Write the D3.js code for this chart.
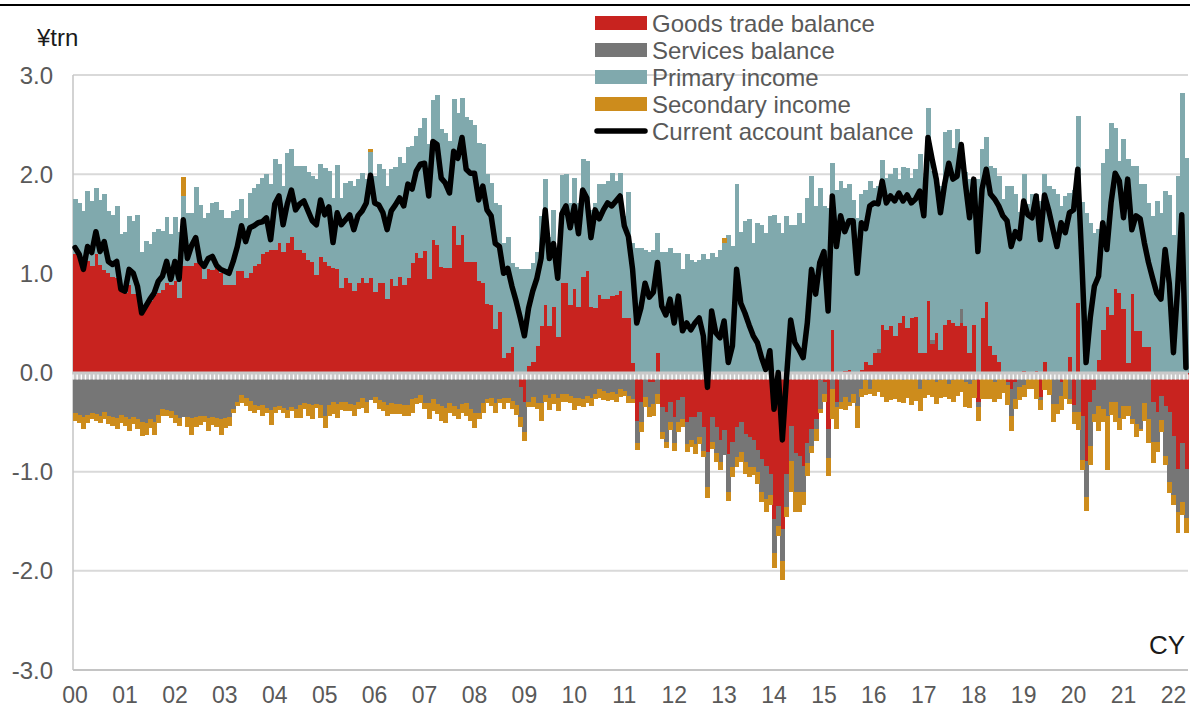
<!DOCTYPE html>
<html>
<head>
<meta charset="utf-8">
<script src="https://cdn.jsdelivr.net/npm/d3@7"></script>
<style>
  body { margin: 0; background: #fff; }
  svg { display: block; font-family: "Liberation Sans", Arial, sans-serif; }
</style>
</head>
<body>
<div id="chart"></div>
<script>
// monthly values, Jan 2000 - Apr 2022, yen trillion
const goods = [
  1.19,1.18,1.15,1.12,1.07,1.19,1.08,1.03,1.00,0.96,0.95,0.86,0.80,0.88,0.79,0.82,0.63,0.70,0.72,0.78,0.80,0.83,0.90,0.88,0.92,0.75,1.07,
  1.07,1.07,1.10,1.12,0.94,1.04,1.03,1.05,1.00,0.88,0.88,0.88,1.02,1.02,0.95,1.00,1.07,1.09,1.20,1.22,1.24,1.24,1.31,1.22,1.31,1.37,1.24,
  1.24,1.21,1.13,1.11,0.98,1.16,1.11,1.07,1.05,1.04,0.85,0.95,0.90,0.82,0.90,0.95,0.90,0.95,0.81,0.90,0.90,0.74,0.94,0.87,0.96,0.88,0.95,
  1.10,1.21,1.15,1.23,0.94,1.34,1.29,1.06,1.05,1.05,1.48,1.29,1.39,1.11,1.11,1.11,0.92,0.90,0.69,0.68,0.44,0.61,0.15,0.20,0.26,-0.03,-0.15,
  -0.30,0.07,0.11,0.27,0.47,0.68,0.47,0.66,0.36,0.90,0.90,0.68,0.84,0.66,0.96,1.02,0.66,0.65,0.78,0.74,0.74,0.77,0.78,0.82,0.55,0.55,0.10,-0.49,
  -0.30,-0.05,-0.10,-0.10,0.20,-0.35,-0.40,-0.30,-0.45,-0.28,-0.25,-0.50,-0.45,-0.45,-0.40,-0.55,-0.80,-0.45,-0.55,-0.68,-0.58,-0.82,-0.70,-0.55,-0.50,-0.62,-0.65,
  -0.68,-0.78,-0.87,-0.94,-1.02,-1.48,-1.35,-1.58,-1.02,-0.54,-0.81,-0.84,-0.94,-0.71,-0.57,-0.47,-0.08,-0.10,-0.57,0.43,-0.30,0.00,0.02,0.03,-0.03,0.00,0.03,
  0.11,0.08,0.20,0.20,0.48,0.43,0.47,0.37,0.50,0.57,0.45,0.55,0.56,0.20,0.20,0.72,0.29,0.40,0.23,0.48,0.53,0.50,0.47,0.50,0.47,0.20,0.48,
  -0.30,0.55,0.71,0.27,0.18,0.11,-0.02,-0.10,-0.17,-0.10,-0.02,0.02,0.01,0.01,0.02,-0.25,0.11,-0.01,-0.02,-0.02,-0.10,0.01,0.16,-0.33,0.70,
  -0.44,-0.89,-0.30,-0.18,0.13,0.43,0.66,0.58,0.84,0.80,0.64,0.10,0.79,0.42,0.42,0.26,0.26,-0.30,-0.40,-0.24,-0.34,-0.40,-0.64,-0.97,-0.71,-0.97
];

const services = [
  -0.41,-0.43,-0.45,-0.43,-0.41,-0.42,-0.44,-0.40,-0.44,-0.45,-0.46,-0.43,-0.45,-0.47,-0.45,-0.47,-0.50,-0.51,-0.47,-0.50,-0.43,-0.37,-0.38,-0.39,-0.43,-0.46,-0.45,
  -0.45,-0.46,-0.45,-0.44,-0.44,-0.46,-0.45,-0.46,-0.47,-0.46,-0.45,-0.37,-0.30,-0.23,-0.26,-0.29,-0.33,-0.34,-0.33,-0.36,-0.38,-0.35,-0.34,-0.36,-0.38,-0.35,-0.37,
  -0.33,-0.31,-0.32,-0.33,-0.32,-0.33,-0.44,-0.33,-0.30,-0.32,-0.30,-0.30,-0.32,-0.33,-0.30,-0.26,-0.30,-0.28,-0.25,-0.28,-0.30,-0.33,-0.31,-0.32,-0.32,-0.33,-0.33,
  -0.27,-0.26,-0.23,-0.31,-0.31,-0.27,-0.32,-0.34,-0.36,-0.31,-0.34,-0.37,-0.32,-0.31,-0.37,-0.41,-0.41,-0.31,-0.27,-0.26,-0.31,-0.27,-0.26,-0.26,-0.29,-0.30,-0.30,
  -0.30,-0.30,-0.25,-0.31,-0.31,-0.23,-0.26,-0.22,-0.26,-0.22,-0.22,-0.24,-0.26,-0.26,-0.27,-0.24,-0.26,-0.22,-0.17,-0.19,-0.21,-0.20,-0.22,-0.17,-0.19,-0.24,-0.27,-0.22,
  -0.20,-0.20,-0.25,-0.22,-0.22,-0.25,-0.30,-0.20,-0.26,-0.22,-0.22,-0.22,-0.23,-0.27,-0.25,-0.24,-0.35,-0.25,-0.26,-0.22,-0.25,-0.38,-0.25,-0.30,-0.30,-0.28,-0.30,
  -0.27,-0.22,-0.34,-0.34,-0.22,-0.34,-0.20,-0.32,-0.34,-0.35,-0.40,-0.37,-0.27,-0.20,-0.17,-0.10,-0.29,-0.12,-0.29,-0.17,-0.05,-0.30,-0.25,-0.30,-0.19,-0.34,-0.17,
  -0.08,-0.17,-0.06,0.04,-0.05,-0.08,-0.06,-0.07,-0.05,-0.08,-0.06,-0.05,-0.07,-0.17,-0.06,-0.08,0.04,-0.10,-0.08,-0.05,-0.12,-0.08,-0.06,0.14,-0.10,-0.12,-0.08,
  -0.05,-0.07,-0.07,-0.07,-0.10,-0.07,-0.05,-0.03,-0.27,-0.17,-0.13,-0.13,-0.07,-0.07,-0.05,-0.03,-0.03,-0.05,-0.30,-0.30,-0.14,-0.07,-0.27,-0.07,-0.40,
  -0.44,-0.37,-0.44,-0.24,-0.34,-0.37,-0.44,-0.30,-0.30,-0.46,-0.34,-0.34,-0.47,-0.52,-0.57,-0.31,-0.47,-0.40,-0.30,-0.24,-0.50,-0.70,-0.60,-0.44,-0.60,-0.50
];

const primary = [
  0.56,0.53,0.48,0.71,0.66,0.67,0.66,0.77,0.63,0.63,0.73,0.54,0.62,0.70,0.74,0.77,0.59,0.63,0.58,0.64,0.65,0.60,0.67,0.52,0.65,0.67,0.71,
  0.54,0.54,0.77,0.57,0.62,0.57,0.68,0.67,0.64,0.68,0.68,0.75,0.62,0.73,0.61,0.81,0.79,0.81,0.76,0.78,0.66,0.91,0.79,0.66,0.90,0.88,0.84,
  0.84,0.87,0.89,0.87,0.97,0.94,0.95,0.96,0.71,1.05,0.91,0.96,1.03,1.06,1.05,1.06,1.05,1.27,1.17,1.20,1.15,1.14,1.11,1.20,1.21,1.23,1.32,
  1.18,1.17,1.32,1.34,1.36,1.41,1.51,1.40,1.37,1.28,1.28,1.33,1.38,1.47,1.44,1.39,1.39,1.40,1.31,1.23,1.27,1.08,1.16,1.17,0.84,1.06,1.04,
  1.04,0.97,0.99,0.95,1.11,1.27,0.90,0.98,0.81,1.09,1.10,1.03,1.12,1.05,1.19,1.11,0.98,1.06,1.12,1.16,1.19,1.24,1.15,1.19,1.03,1.27,1.21,1.26,
  1.26,1.24,1.22,1.24,1.21,1.22,1.22,1.26,1.21,1.21,1.04,1.19,1.13,1.11,1.13,1.19,1.14,1.21,1.16,1.24,1.31,1.39,1.28,1.90,1.42,1.53,1.55,
  1.31,1.51,1.49,1.41,1.58,1.59,1.51,1.41,1.58,1.49,1.49,1.61,1.51,1.76,1.98,1.68,1.86,1.68,1.66,1.68,1.84,1.93,1.84,1.87,1.74,1.56,1.77,
  1.73,1.85,1.66,1.64,1.66,1.53,1.53,1.69,1.45,1.50,1.61,1.41,1.49,2.00,1.71,1.95,1.70,1.51,1.65,1.95,1.92,1.76,1.99,1.64,1.55,1.75,1.44,
  1.95,1.70,1.66,1.81,1.88,1.87,1.75,1.88,1.88,1.80,1.62,1.98,1.69,1.79,1.78,1.73,1.89,1.88,1.85,1.80,1.68,1.77,1.65,1.84,1.89,
  1.72,1.61,1.51,1.41,1.32,1.68,1.59,1.94,1.63,1.33,1.71,2.05,1.29,1.66,1.48,1.64,1.45,1.58,1.73,1.61,1.83,1.79,1.39,1.98,2.82,2.16
];

const secondary = [
  -0.08,-0.08,-0.12,-0.08,-0.06,-0.07,-0.07,-0.07,-0.08,-0.09,-0.11,-0.08,-0.09,-0.12,-0.07,-0.10,-0.14,-0.12,-0.09,-0.13,-0.08,-0.07,-0.06,-0.07,-0.08,-0.08,0.19,
  -0.10,-0.17,-0.10,-0.09,-0.06,-0.13,-0.08,-0.09,-0.16,-0.10,-0.09,-0.04,-0.04,-0.08,-0.08,-0.10,-0.08,-0.04,-0.11,-0.05,-0.15,-0.06,-0.04,-0.05,-0.08,-0.04,-0.09,
  -0.13,-0.06,-0.12,-0.14,-0.04,-0.13,-0.12,-0.11,-0.12,-0.14,-0.08,-0.09,-0.07,-0.11,-0.07,-0.10,-0.11,0.03,-0.06,-0.09,-0.09,-0.11,-0.11,-0.10,-0.10,-0.11,-0.11,
  -0.14,-0.06,-0.08,-0.06,-0.16,-0.12,-0.10,-0.15,-0.15,-0.10,-0.10,-0.10,-0.09,-0.13,-0.12,-0.15,-0.06,-0.10,-0.04,-0.08,-0.10,-0.04,-0.11,-0.05,-0.08,-0.10,-0.10,
  -0.09,-0.05,-0.10,-0.06,-0.18,-0.07,-0.12,-0.10,-0.13,-0.08,-0.08,-0.07,-0.12,-0.08,-0.08,-0.07,-0.08,-0.05,-0.09,-0.09,-0.08,-0.08,-0.08,-0.08,-0.05,-0.07,-0.04,-0.07,
  -0.10,-0.10,-0.10,-0.12,-0.10,-0.07,-0.06,-0.08,-0.08,-0.10,-0.08,-0.08,-0.07,-0.10,-0.07,-0.06,-0.12,-0.07,-0.09,-0.08,0.05,-0.10,-0.10,-0.10,-0.10,-0.12,-0.10,
  -0.08,-0.12,-0.10,-0.13,-0.10,-0.15,-0.10,-0.19,-0.10,-0.32,-0.20,-0.20,-0.13,-0.13,-0.07,-0.12,-0.04,-0.08,-0.18,-0.30,-0.22,-0.07,-0.13,-0.04,-0.09,-0.22,-0.08,
  -0.15,-0.05,-0.18,-0.20,-0.20,-0.22,-0.22,-0.20,-0.25,-0.23,-0.20,-0.28,-0.22,-0.22,-0.20,-0.15,-0.25,-0.22,-0.18,-0.20,-0.15,-0.22,-0.18,-0.20,-0.25,-0.24,-0.18,
  -0.14,-0.20,-0.20,-0.20,-0.20,-0.20,-0.14,-0.20,-0.15,-0.10,-0.13,-0.12,-0.10,-0.10,-0.22,-0.10,-0.15,-0.17,-0.18,-0.10,-0.14,-0.20,-0.05,-0.12,-0.18,
  -0.10,-0.14,-0.19,-0.08,-0.25,-0.13,-0.54,-0.13,-0.20,-0.12,-0.13,-0.10,-0.05,-0.13,-0.02,-0.18,-0.24,-0.21,-0.10,-0.12,-0.09,-0.12,-0.10,-0.21,-0.13,-0.15
];

const currentAccount = [
  1.26,1.19,1.04,1.27,1.21,1.42,1.22,1.32,1.12,1.09,1.12,0.84,0.82,1.04,1.00,0.87,0.60,0.67,0.74,0.80,0.92,0.97,1.12,0.94,1.12,0.94,1.54,
  1.15,1.28,1.36,1.12,1.07,1.15,1.17,1.08,1.04,1.02,1.00,1.12,1.27,1.48,1.32,1.46,1.48,1.51,1.52,1.56,1.34,1.70,1.78,1.49,1.70,1.84,1.64,
  1.70,1.73,1.63,1.53,1.49,1.74,1.59,1.67,1.31,1.61,1.49,1.54,1.59,1.44,1.58,1.63,1.71,1.99,1.71,1.69,1.61,1.44,1.63,1.69,1.76,1.68,1.90,
  1.85,2.03,2.10,2.11,1.78,2.33,2.30,1.96,1.91,1.81,2.23,2.16,2.37,2.05,2.01,2.01,1.74,1.88,1.64,1.58,1.30,1.27,1.00,1.05,0.87,0.72,0.55,
  0.37,0.65,0.82,0.95,1.15,1.64,1.15,1.30,0.95,1.60,1.68,1.46,1.68,1.40,1.84,1.76,1.36,1.64,1.55,1.64,1.71,1.68,1.73,1.78,1.48,1.37,1.04,0.50,
  0.65,0.90,0.76,0.81,1.11,0.67,0.58,0.74,0.50,0.77,0.42,0.50,0.43,0.50,0.55,0.37,-0.15,0.62,0.40,0.35,0.52,0.10,0.27,1.04,0.70,0.60,0.48,
  0.37,0.30,0.15,0.03,0.22,-0.37,0.00,-0.68,-0.05,0.53,0.30,0.23,0.15,0.50,1.04,0.79,1.11,1.22,0.62,1.78,1.27,1.58,1.42,1.53,1.53,1.00,1.51,
  1.45,1.68,1.71,1.70,1.93,1.71,1.78,1.73,1.81,1.73,1.79,1.71,1.75,1.83,1.58,2.37,2.15,1.95,1.61,1.90,2.11,1.95,1.98,2.30,1.90,1.56,1.95,
  1.22,1.85,2.05,1.80,1.75,1.68,1.58,1.53,1.27,1.42,1.35,1.73,1.59,1.56,1.78,1.34,1.79,1.64,1.45,1.27,1.51,1.41,1.61,1.64,2.05,
  1.10,0.10,0.55,0.87,0.97,1.51,1.24,1.71,2.01,1.93,1.56,1.95,1.44,1.58,1.55,1.31,1.11,0.95,0.80,0.74,1.24,0.90,0.20,0.85,1.59,0.05
];

const yearLabels = ["00","01","02","03","04","05","06","07","08","09","10","11",
  "12","13","14","15","16","17","18","19","20","21","22"];
const yTicks = [3, 2, 1, 0, -1, -2, -3];

const seriesNames = ["Goods trade balance", "Services balance", "Primary income", "Secondary income"];
const keys = ["goods", "services", "primary", "secondary"];
const colors = ["#c8231f", "#767676", "#80a9ad", "#cd8c1c"];

const width = 1190;
const height = 709;
const plot = { left: 73, right: 1188, top: 75, bottom: 670 };

const rows = goods.map((g, i) => ({
  i: i,
  goods: g,
  services: services[i],
  primary: primary[i],
  secondary: secondary[i]
}));

const x = d3.scaleBand()
  .domain(d3.range(rows.length))
  .range([plot.left, plot.right])
  .padding(0);

const y = d3.scaleLinear()
  .domain([-3, 3])
  .range([plot.bottom, plot.top]);

const color = d3.scaleOrdinal().domain(keys).range(colors);

const stacked = d3.stack()
  .keys(keys)
  .offset(d3.stackOffsetDiverging)(rows);

const svg = d3.select("#chart")
  .append("svg")
  .attr("width", width)
  .attr("height", height);

// rule along the top
svg.append("line")
  .attr("x1", 0).attr("x2", width)
  .attr("y1", 5).attr("y2", 5)
  .attr("stroke", "#000")
  .attr("stroke-width", 2);

// gridlines
svg.append("g")
  .selectAll("line")
  .data(yTicks.filter(d => d !== 0 && d !== -3))
  .join("line")
  .attr("x1", plot.left).attr("x2", plot.right)
  .attr("y1", d => y(d)).attr("y2", d => y(d))
  .attr("stroke", "#d9d9d9")
  .attr("stroke-width", 2);

svg.append("line")
  .attr("x1", plot.left).attr("x2", plot.right)
  .attr("y1", y(-3)).attr("y2", y(-3))
  .attr("stroke", "#c4c4c4")
  .attr("stroke-width", 2);

svg.append("line")
  .attr("x1", plot.left).attr("x2", plot.left)
  .attr("y1", y(3)).attr("y2", y(-3))
  .attr("stroke", "#c4c4c4")
  .attr("stroke-width", 1.5);

// stacked bars (slight overlap so neighbouring months join without seams)
svg.append("g")
  .attr("shape-rendering", "crispEdges")
  .selectAll("g")
  .data(stacked)
  .join("g")
  .attr("fill", d => color(d.key))
  .selectAll("rect")
  .data(d => d)
  .join("rect")
  .attr("x", d => x(d.data.i))
  .attr("width", x.bandwidth() + 0.8)
  .attr("y", d => y(Math.max(d[0], d[1])))
  .attr("height", d => Math.abs(y(d[0]) - y(d[1])));

// zero axis with monthly ticks
const y0 = y(0);
svg.append("rect")
  .attr("x", plot.left).attr("y", y0 - 1)
  .attr("width", plot.right - plot.left).attr("height", 8)
  .attr("fill", "#c9c9c9");

svg.append("g")
  .selectAll("line")
  .data(d3.range(rows.length + 1))
  .join("line")
  .attr("x1", i => i < rows.length ? x(i) : plot.right)
  .attr("x2", i => i < rows.length ? x(i) : plot.right)
  .attr("y1", y0 + 2)
  .attr("y2", y0 + 7)
  .attr("stroke", "#fff")
  .attr("stroke-width", 1.4);

// current account line
const line = d3.line()
  .x((d, i) => x(i) + x.bandwidth() / 2)
  .y(d => y(d))
  .curve(d3.curveLinear);

svg.append("path")
  .datum(currentAccount)
  .attr("d", line)
  .attr("fill", "none")
  .attr("stroke", "#000")
  .attr("stroke-width", 5.5)
  .attr("stroke-linejoin", "round")
  .attr("stroke-linecap", "round");

// y axis labels
svg.append("g")
  .selectAll("text")
  .data(yTicks)
  .join("text")
  .attr("x", 53)
  .attr("y", d => y(d))
  .attr("dy", "0.36em")
  .attr("text-anchor", "end")
  .attr("font-size", "24px")
  .attr("fill", "#595959")
  .text(d => d.toFixed(1));

// x axis labels (January of each year)
svg.append("g")
  .selectAll("text")
  .data(yearLabels)
  .join("text")
  .attr("x", (d, k) => x(k * 12) + x.bandwidth() / 2)
  .attr("y", 703)
  .attr("text-anchor", "middle")
  .attr("font-size", "23px")
  .attr("fill", "#595959")
  .text(d => d);

// unit and axis titles
svg.append("text")
  .attr("x", 37).attr("y", 46)
  .attr("font-size", "24px")
  .attr("fill", "#1a1a1a")
  .text("¥trn");

svg.append("text")
  .attr("x", 1185).attr("y", 654)
  .attr("text-anchor", "end")
  .attr("font-size", "26px")
  .attr("fill", "#1a1a1a")
  .text("CY");

// legend
const legend = svg.append("g").attr("transform", "translate(595,23)");

seriesNames.forEach((name, k) => {
  const g = legend.append("g").attr("transform", `translate(0,${k * 27})`);
  g.append("rect")
    .attr("x", 0).attr("y", -7)
    .attr("width", 52).attr("height", 14)
    .attr("fill", colors[k]);
  g.append("text")
    .attr("x", 57).attr("y", 0)
    .attr("dy", "0.36em")
    .attr("font-size", "24px")
    .attr("fill", "#595959")
    .text(name);
});

const lineItem = legend.append("g").attr("transform", `translate(0,${4 * 27})`);
lineItem.append("line")
  .attr("x1", 2).attr("x2", 50)
  .attr("stroke", "#000")
  .attr("stroke-width", 5.5)
  .attr("stroke-linecap", "round");
lineItem.append("text")
  .attr("x", 57).attr("y", 0)
  .attr("dy", "0.36em")
  .attr("font-size", "24px")
  .attr("fill", "#595959")
  .text("Current account balance");
</script>
</body>
</html>
